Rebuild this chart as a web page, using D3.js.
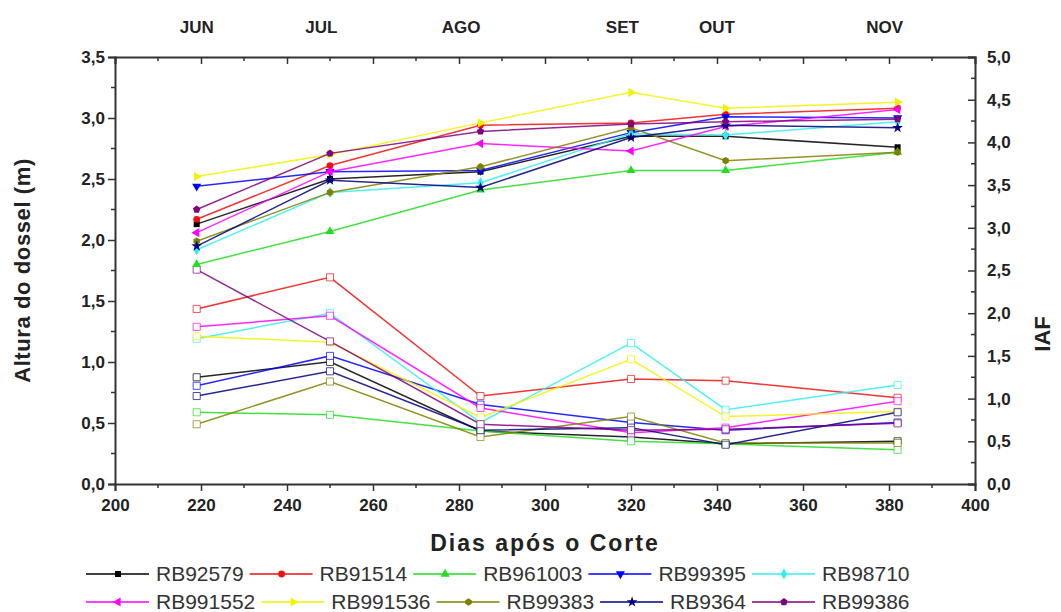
<!DOCTYPE html>
<html>
<head>
<meta charset="utf-8">
<script src="https://cdn.jsdelivr.net/npm/d3@7"></script>
<style>
  body { margin: 0; background: #fff; }
  svg { display: block; font-family: "Liberation Sans", Arial, sans-serif; }
  .axis text { font-weight: bold; font-size: 17px; fill: #222; }
  .axis path, .axis line { stroke: #333; }
  .legend text { font-size: 21px; fill: #333; }
</style>
</head>
<body>
<div id="chart"></div>
<script>
// days after cutting (x values)
const days = [219, 250, 285, 320, 342, 382];

const cultivars = ['RB92579', 'RB91514', 'RB961003', 'RB99395', 'RB98710',
  'RB991552', 'RB991536', 'RB99383', 'RB9364', 'RB99386'];

// canopy height (m), left axis
const heightValues = [
  [2.13, 2.50, 2.56, 2.85, 2.85, 2.76],
  [2.17, 2.61, 2.94, 2.96, 3.03, 3.08],
  [1.80, 2.07, 2.41, 2.57, 2.57, 2.72],
  [2.44, 2.56, 2.57, 2.88, 3.01, 3.00],
  [1.92, 2.39, 2.47, 2.87, 2.86, 2.97],
  [2.06, 2.56, 2.79, 2.73, 2.93, 3.07],
  [2.52, 2.70, 2.96, 3.21, 3.08, 3.13],
  [1.99, 2.39, 2.60, 2.92, 2.65, 2.72],
  [1.95, 2.49, 2.43, 2.84, 2.94, 2.92],
  [2.25, 2.71, 2.89, 2.95, 2.97, 2.99]
];

// leaf area index, right axis
const iafValues = [
  [1.25, 1.43, 0.62, 0.55, 0.47, 0.50],
  [2.05, 2.42, 1.03, 1.23, 1.21, 1.01],
  [0.84, 0.81, 0.62, 0.50, 0.47, 0.40],
  [1.15, 1.50, 0.93, 0.72, 0.63, 0.72],
  [1.70, 2.00, 0.72, 1.65, 0.87, 1.16],
  [1.84, 1.97, 0.89, 0.60, 0.66, 0.97],
  [1.73, 1.66, 0.78, 1.46, 0.79, 0.85],
  [0.70, 1.20, 0.55, 0.79, 0.48, 0.48],
  [1.03, 1.32, 0.63, 0.66, 0.46, 0.84],
  [2.51, 1.67, 0.70, 0.63, 0.64, 0.71]
];

const months = ['JUN', 'JUL', 'AGO', 'SET', 'OUT', 'NOV'];
const monthDays = [219, 248, 280.5, 318, 340, 379];

const xTicks = [200, 220, 240, 260, 280, 300, 320, 340, 360, 380, 400];
const leftTicks = [0, 0.5, 1, 1.5, 2, 2.5, 3, 3.5];
const rightTicks = [0, 0.5, 1, 1.5, 2, 2.5, 3, 3.5, 4, 4.5, 5];

const colors = ['#000000', '#ee1111', '#22dd22', '#0000ff', '#33eeee',
  '#ff00ff', '#f2f200', '#808000', '#000080', '#800080'];

const polygon = n => ({
  draw(ctx, size) {
    const r = Math.sqrt(size / (n * 0.5 * Math.sin(2 * Math.PI / n)));
    for (let i = 0; i < n; i++) {
      const a = -Math.PI / 2 + i * 2 * Math.PI / n;
      i ? ctx.lineTo(r * Math.cos(a), r * Math.sin(a)) : ctx.moveTo(r * Math.cos(a), r * Math.sin(a));
    }
    ctx.closePath();
  }
});

// Origin-style symbol sequence
const symbols = [
  { type: d3.symbolSquare, rot: 0 },
  { type: d3.symbolCircle, rot: 0 },
  { type: d3.symbolTriangle, rot: 0 },
  { type: d3.symbolTriangle, rot: 180 },
  { type: d3.symbolDiamond, rot: 0 },
  { type: d3.symbolTriangle, rot: -90 },
  { type: d3.symbolTriangle, rot: 90 },
  { type: polygon(6), rot: 0 },
  { type: d3.symbolStar, rot: 0 },
  { type: polygon(5), rot: 0 }
];

const W = 1061, H = 612;
const margin = { top: 57, right: 86, bottom: 128, left: 115 };

const svg = d3.select('#chart').append('svg')
  .attr('width', W)
  .attr('height', H);

const x = d3.scaleLinear().domain([200, 400]).range([margin.left, W - margin.right]);
const yL = d3.scaleLinear().domain([0, 3.5]).range([H - margin.bottom, margin.top]);
const yR = d3.scaleLinear().domain([0, 5]).range([H - margin.bottom, margin.top]);

const comma = d => d.toFixed(1).replace('.', ',');

// minor ticks
const minorX = d3.range(210, 400, 20);
const minorL = d3.range(0.25, 3.5, 0.5);
const minorR = d3.range(0.25, 5, 0.5);

const x0 = margin.left, x1 = W - margin.right;
const y0 = H - margin.bottom, y1 = margin.top;

const gridStyle = g => g.selectAll('line').attr('stroke', '#333').attr('stroke-width', 1.5);

// bottom axis
svg.append('g')
  .attr('class', 'axis')
  .attr('transform', `translate(0,${y0})`)
  .call(d3.axisBottom(x).tickValues(xTicks).tickFormat(d3.format('d')).tickSize(7).tickPadding(8))
  .call(gridStyle)
  .call(g => g.selectAll('.minor').data(minorX).join('line')
    .attr('class', 'minor')
    .attr('x1', d => x(d)).attr('x2', d => x(d))
    .attr('y1', 0).attr('y2', 4)
    .attr('stroke', '#333').attr('stroke-width', 1.5));

// top axis (ticks inward)
svg.append('g')
  .attr('class', 'axis')
  .attr('transform', `translate(0,${y1})`)
  .call(d3.axisTop(x).tickValues(xTicks).tickFormat('').tickSize(-7))
  .call(gridStyle)
  .call(g => g.selectAll('.minor').data(minorX).join('line')
    .attr('class', 'minor')
    .attr('x1', d => x(d)).attr('x2', d => x(d))
    .attr('y1', 0).attr('y2', 4)
    .attr('stroke', '#333').attr('stroke-width', 1.5));

// left axis
svg.append('g')
  .attr('class', 'axis')
  .attr('transform', `translate(${x0},0)`)
  .call(d3.axisLeft(yL).tickValues(leftTicks).tickFormat(comma).tickSize(7).tickPadding(3))
  .call(gridStyle)
  .call(g => g.selectAll('.minor').data(minorL).join('line')
    .attr('class', 'minor')
    .attr('y1', d => yL(d)).attr('y2', d => yL(d))
    .attr('x1', 0).attr('x2', -4)
    .attr('stroke', '#333').attr('stroke-width', 1.5));

// right axis (ticks inward)
svg.append('g')
  .attr('class', 'axis')
  .attr('transform', `translate(${x1},0)`)
  .call(d3.axisRight(yR).tickValues(rightTicks).tickFormat(comma).tickSize(-7).tickPadding(12))
  .call(gridStyle)
  .call(g => g.selectAll('.minor').data(minorR).join('line')
    .attr('class', 'minor')
    .attr('y1', d => yR(d)).attr('y2', d => yR(d))
    .attr('x1', 0).attr('x2', -4)
    .attr('stroke', '#333').attr('stroke-width', 1.5));

svg.selectAll('.axis .domain').attr('stroke', '#333').attr('stroke-width', 2);

// month labels on top
svg.append('g')
  .selectAll('text')
  .data(months)
  .join('text')
  .attr('x', (d, i) => x(monthDays[i]))
  .attr('y', 33)
  .attr('text-anchor', 'middle')
  .attr('font-weight', 'bold')
  .attr('font-size', 17)
  .attr('fill', '#222')
  .text(d => d);

// axis titles
svg.append('text')
  .attr('x', (x0 + x1) / 2)
  .attr('y', 551)
  .attr('text-anchor', 'middle')
  .attr('font-weight', 'bold')
  .attr('font-size', 23)
  .attr('letter-spacing', 2)
  .attr('fill', '#222')
  .text('Dias após o Corte');

svg.append('text')
  .attr('transform', `translate(30,${(y0 + y1) / 2}) rotate(-90)`)
  .attr('text-anchor', 'middle')
  .attr('font-weight', 'bold')
  .attr('font-size', 22)
  .attr('letter-spacing', 0.6)
  .attr('fill', '#222')
  .text('Altura do dossel (m)');

svg.append('text')
  .attr('transform', `translate(1050,334) rotate(-90)`)
  .attr('text-anchor', 'middle')
  .attr('font-weight', 'bold')
  .attr('font-size', 22)
  .attr('fill', '#222')
  .text('IAF');

const lineL = d3.line().x((d, i) => x(days[i])).y(d => yL(d));
const lineR = d3.line().x((d, i) => x(days[i])).y(d => yR(d));

const symPath = (i, size) => d3.symbol().type(symbols[i].type).size(size)();

// IAF series (open squares)
const iafG = svg.append('g');
iafValues.forEach((vals, i) => {
  iafG.append('path')
    .attr('d', lineR(vals))
    .attr('fill', 'none')
    .attr('stroke', colors[i])
    .attr('stroke-width', 1.5)
    .attr('stroke-opacity', 0.85);
});
iafValues.forEach((vals, i) => {
  iafG.selectAll(null)
    .data(vals)
    .join('path')
    .attr('d', d3.symbol().type(d3.symbolSquare).size(50)())
    .attr('transform', (d, j) => `translate(${x(days[j])},${yR(d)})`)
    .attr('fill', '#fff')
    .attr('stroke', colors[i])
    .attr('stroke-opacity', 0.7)
    .attr('stroke-width', 1);
});

// height series (filled symbols)
const hG = svg.append('g');
heightValues.forEach((vals, i) => {
  hG.append('path')
    .attr('d', lineL(vals))
    .attr('fill', 'none')
    .attr('stroke', colors[i])
    .attr('stroke-width', 1.5)
    .attr('stroke-opacity', 0.85);
  hG.selectAll(null)
    .data(vals)
    .join('path')
    .attr('d', symPath(i, 36))
    .attr('transform', (d, j) => `translate(${x(days[j])},${yL(d)}) rotate(${symbols[i].rot})`)
    .attr('fill', colors[i]);
});

// legend: two rows of five, flowing left to right
const legend = svg.append('g').attr('class', 'legend');
const rowsY = [574, 602];
for (let r = 0; r < 2; r++) {
  let cx = 86;
  for (let k = 0; k < 5; k++) {
    const i = r * 5 + k;
    const item = legend.append('g');
    item.append('line')
      .attr('x1', cx).attr('x2', cx + 63)
      .attr('y1', rowsY[r]).attr('y2', rowsY[r])
      .attr('stroke', colors[i])
      .attr('stroke-width', 1.5);
    item.append('path')
      .attr('d', symPath(i, 36))
      .attr('transform', `translate(${cx + 32},${rowsY[r]}) rotate(${symbols[i].rot})`)
      .attr('fill', colors[i]);
    const t = item.append('text')
      .attr('x', cx + 70)
      .attr('y', rowsY[r] + 7)
      .text(cultivars[i]);
    cx = cx + 70 + t.node().getComputedTextLength() + 6;
  }
}
</script>
</body>
</html>
